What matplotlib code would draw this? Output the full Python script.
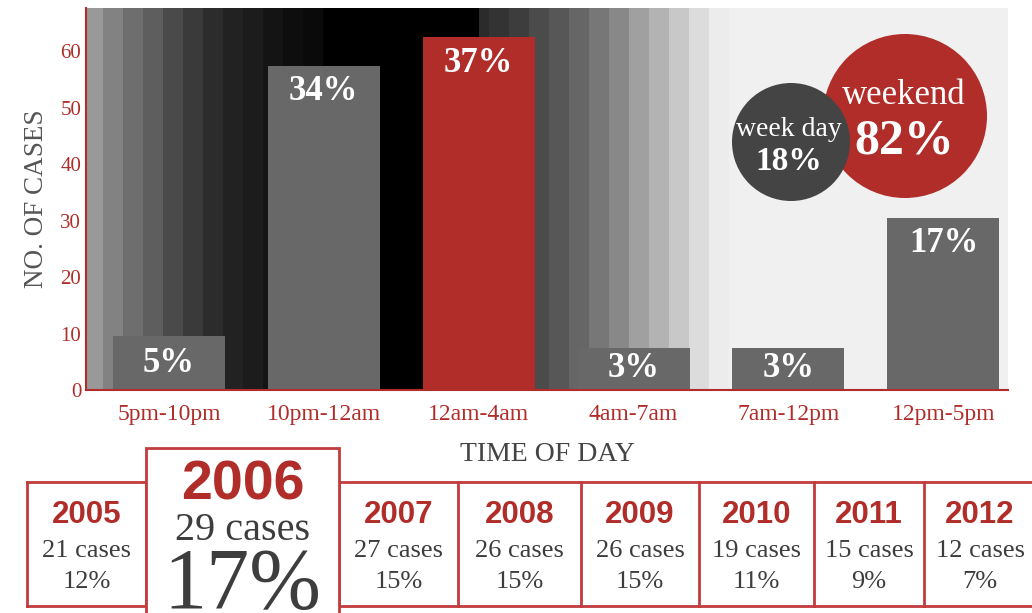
import matplotlib
matplotlib.use("Agg")
import matplotlib.pyplot as plt
from matplotlib.patches import Rectangle, Circle

# =====================================================================================
# Data
# =====================================================================================

time_slots = ["5pm-10pm", "10pm-12am", "12am-4am", "4am-7am", "7am-12pm", "12pm-5pm"]
cases = [9.5, 57.5, 62.5, 7.5, 7.5, 30.5]
shares = ["5%", "34%", "37%", "3%", "3%", "17%"]
highlight = "12am-4am"

day_types = ["week day", "weekend"]
day_shares = ["18%", "82%"]

years = ["2005", "2006", "2007", "2008", "2009", "2010", "2011", "2012"]
year_cases = [21, 29, 27, 26, 26, 19, 15, 12]
year_shares = ["12%", "17%", "15%", "15%", "15%", "11%", "9%", "7%"]
peak_year = "2006"

# =====================================================================================
# Style
# =====================================================================================

RED = "#b02d2a"
LINE_RED = "#c23b3d"
BAR_GREY = "#686868"
DARK = "#3d3d3d"
SERIF = ["Liberation Serif", "DejaVu Serif"]
SANS = ["Liberation Sans", "DejaVu Sans"]

# background stripes: (width in px, grey), left to right over the plot area
stripes = [
    (17, "#999999"), (20, "#828282"), (20, "#6e6e6e"), (20, "#5e5e5e"),
    (20, "#4a4a4a"), (20, "#3a3a3a"), (20, "#2c2c2c"), (20, "#222222"),
    (20, "#1c1c1c"), (20, "#141414"), (20, "#0e0e0e"), (20, "#0a0a0a"),
    (156, "#000000"), (10, "#2b2b2b"), (20, "#333333"), (20, "#3d3d3d"),
    (20, "#4b4b4b"), (20, "#575757"), (20, "#666666"), (20, "#777777"),
    (20, "#888888"), (20, "#a0a0a0"), (20, "#b3b3b3"), (20, "#c8c8c8"),
    (20, "#dcdcdc"), (20, "#ececec"), (300, "#f0f0f0"),
]

W, H = 1032, 613
fig = plt.figure(figsize=(W / 100, H / 100), dpi=100)

# =====================================================================================
# Bar chart
# =====================================================================================

ax_l, ax_r, ax_t, ax_b = 86, 1008, 8, 390
ax = fig.add_axes([ax_l / W, 1 - ax_b / H, (ax_r - ax_l) / W, (ax_b - ax_t) / H])
ax_w = ax_r - ax_l

x0 = 0
for w, g in stripes:
    ax.add_patch(Rectangle((x0 / ax_w, 0), w / ax_w, 1, transform=ax.transAxes,
                           color=g, lw=0, zorder=0))
    x0 += w

xs = list(range(len(time_slots)))
colors = [RED if t == highlight else BAR_GREY for t in time_slots]
ax.bar(xs, cases, width=0.723, color=colors, zorder=2)

for x, v, s in zip(xs, cases, shares):
    y = v - 4.6 if v > 15 else v / 2
    ax.text(x, y, s, ha="center", va="center", color="white", fontsize=25,
            fontweight="bold", family=SERIF, zorder=3)

ax.set_xlim(-0.535, 5.417)
ax.set_ylim(0, 67.7)
ax.set_yticks([0, 10, 20, 30, 40, 50, 60])
ax.set_xticks(xs)
ax.set_xticklabels(time_slots)
ax.tick_params(length=0, colors=RED, labelsize=15)
ax.tick_params(axis="x", labelsize=17, pad=10)
for lab in ax.get_xticklabels() + ax.get_yticklabels():
    lab.set_family(SERIF)
for side in ["top", "right"]:
    ax.spines[side].set_visible(False)
for side in ["left", "bottom"]:
    ax.spines[side].set_color(RED)
    ax.spines[side].set_linewidth(1.5)
ax.set_ylabel("NO. OF CASES", family=SERIF, fontsize=19.5, color="#555555", labelpad=8)
ax.set_xlabel("TIME OF DAY", family=SERIF, fontsize=20, color="#444444", labelpad=12)

# =====================================================================================
# Overlay in pixel coordinates: circles + yearly boxes
# =====================================================================================

ov = fig.add_axes([0, 0, 1, 1])
ov.set_xlim(0, W)
ov.set_ylim(H, 0)
ov.axis("off")
ov.patch.set_alpha(0)

# weekend / week day circles
ov.add_patch(Circle((905, 116), 82, color=RED, lw=0, zorder=1))
ov.add_patch(Circle((791, 142), 59, color="#444444", lw=0, zorder=2))
ov.text(789, 130, day_types[0], ha="center", va="center", color="white",
        fontsize=20, family=SERIF, zorder=3)
ov.text(789, 161, day_shares[0], ha="center", va="center", color="white",
        fontsize=24, fontweight="bold", family=SERIF, zorder=3)
ov.text(904, 95, day_types[1], ha="center", va="center", color="white",
        fontsize=25, family=SERIF, zorder=3)
ov.text(904, 142, day_shares[1], ha="center", va="center", color="white",
        fontsize=36, fontweight="bold", family=SERIF, zorder=3)

# year boxes
edges = [27, 146, 339, 458, 581, 699, 814, 924, 1045]
row_top, row_bot = 482, 606
ov.plot([edges[0], edges[-1]], [row_top, row_top], color=LINE_RED, lw=2, zorder=1)
ov.plot([edges[0], edges[-1]], [row_bot, row_bot], color=LINE_RED, lw=2, zorder=1)
for e in edges[:-1]:
    ov.plot([e, e], [row_top, row_bot], color=LINE_RED, lw=2, zorder=1)

for i, (yr, n, s) in enumerate(zip(years, year_cases, year_shares)):
    cx = (edges[i] + edges[i + 1]) / 2
    if yr == peak_year:
        ov.add_patch(Rectangle((edges[i], 448), edges[i + 1] - edges[i], 200,
                               facecolor="white", edgecolor=LINE_RED, lw=2, zorder=4))
        ov.text(cx, 500, yr, ha="center", va="baseline", color=RED, fontsize=40,
                fontweight="bold", family=SANS, zorder=5)
        ov.text(cx, 540, f"{n} cases", ha="center", va="baseline", color=DARK,
                fontsize=29, family=SERIF, zorder=5)
        ov.text(cx, 608, s, ha="center", va="baseline", color=DARK,
                fontsize=62, family=SERIF, zorder=5)
    else:
        if i == len(years) - 1:
            cx = (edges[i] + W) / 2 + 2
        ov.text(cx, 523, yr, ha="center", va="baseline", color=RED, fontsize=22.5,
                fontweight="bold", family=SANS, zorder=2)
        ov.text(cx, 557, f"{n} cases", ha="center", va="baseline", color=DARK,
                fontsize=19, family=SERIF, zorder=2)
        ov.text(cx, 588, s, ha="center", va="baseline", color=DARK,
                fontsize=19, family=SERIF, zorder=2)

fig.savefig("out.png", dpi=100)
